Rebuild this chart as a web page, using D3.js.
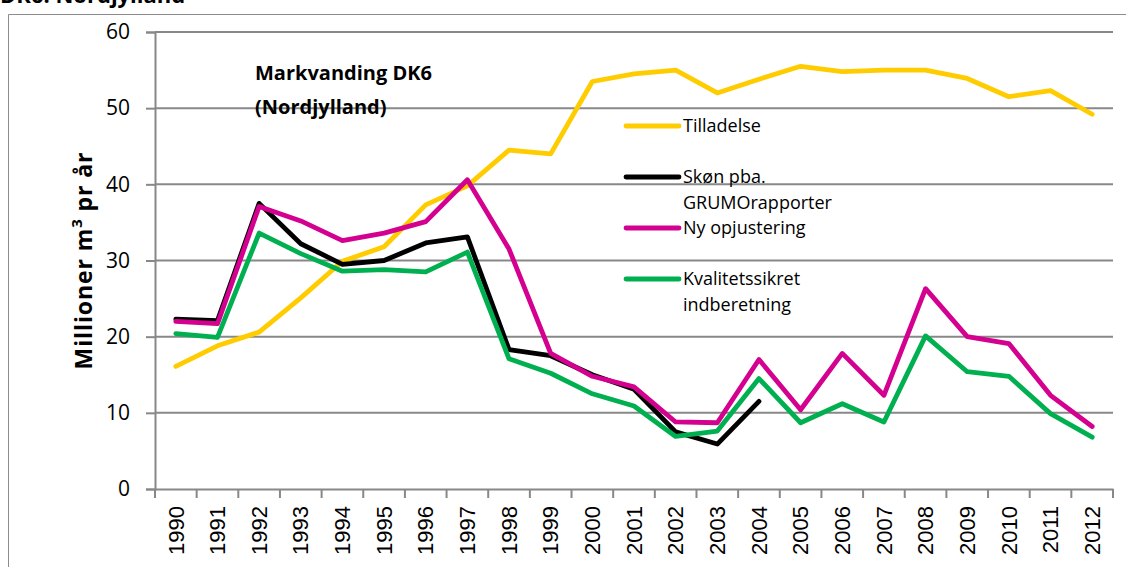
<!DOCTYPE html>
<html>
<head>
<meta charset="utf-8">
<script src="https://cdn.jsdelivr.net/npm/d3@7"></script>
<style>
  html, body { margin: 0; padding: 0; background: #fff; }
  svg { display: block; }
</style>
</head>
<body>
<svg id="chart" width="1126" height="567"></svg>
<script>
// Years on the category axis
const years = ["1990","1991","1992","1993","1994","1995","1996","1997","1998","1999","2000",
               "2001","2002","2003","2004","2005","2006","2007","2008","2009","2010","2011","2012"];

// Mio. m³ per year
const tilladelse = [16.1, 18.8, 20.6, 25.1, 29.9, 31.8, 37.3, 39.8, 44.5, 44.0, 53.5,
                    54.5, 55.0, 52.0, 53.8, 55.5, 54.8, 55.0, 55.0, 53.9, 51.5, 52.3, 49.2];
const skoen = [22.3, 22.1, 37.5, 32.2, 29.5, 30.0, 32.3, 33.1, 18.3, 17.5, 15.0,
               13.1, 7.5, 5.9, 11.5];
const nyOpjustering = [22.0, 21.7, 37.1, 35.2, 32.6, 33.6, 35.1, 40.6, 31.5, 17.8, 14.8,
                       13.4, 8.8, 8.7, 17.0, 10.4, 17.8, 12.3, 26.3, 20.0, 19.1, 12.3, 8.2];
const kvalitet = [20.4, 19.9, 33.6, 30.9, 28.6, 28.8, 28.5, 31.1, 17.1, 15.2, 12.5,
                  10.9, 6.9, 7.6, 14.5, 8.7, 11.2, 8.8, 20.1, 15.4, 14.8, 9.9, 6.8];

const yTicks = [0, 10, 20, 30, 40, 50, 60];

const series = [
  { name: ["Tilladelse"], values: tilladelse, color: "#FFCC00" },
  { name: ["Skøn pba.", "GRUMOrapporter"], values: skoen, color: "#000000" },
  { name: ["Ny opjustering"], values: nyOpjustering, color: "#D4008F" },
  { name: ["Kvalitetssikret", "indberetning"], values: kvalitet, color: "#00B050" }
];

const svg = d3.select("#chart");
const plot = { left: 155, right: 1113, top: 32, bottom: 489 };
const uiFont = "'Open Sans', Lato, sans-serif";
const gridColor = "#888888";

// Outer chart frame (left and top edges visible)
svg.append("path")
  .attr("d", "M8.5,567 V14.5 H1126")
  .attr("fill", "none").attr("stroke", "#8c8c8c").attr("stroke-width", 1);

// Heading, clipped by the top of the page
svg.append("text")
  .attr("x", 0).attr("y", 3)
  .attr("font-family", uiFont).attr("font-weight", "bold").attr("font-size", 22)
  .text("DK6: Nordjylland");

const x = d3.scaleBand().domain(years).range([plot.left, plot.right]);
const y = d3.scaleLinear().domain([0, 60]).range([plot.bottom, plot.top]);

// Horizontal gridlines
svg.append("g")
  .selectAll("line")
  .data(yTicks.filter(d => d > 0))
  .join("line")
  .attr("x1", plot.left).attr("x2", plot.right)
  .attr("y1", d => y(d)).attr("y2", d => y(d))
  .attr("stroke", gridColor).attr("stroke-width", 2);

// Y axis
const yAxis = svg.append("g")
  .attr("transform", `translate(${plot.left},0)`)
  .call(d3.axisLeft(y).tickValues(yTicks).tickSize(9).tickPadding(16));
yAxis.select(".domain").attr("stroke", gridColor).attr("stroke-width", 2);
yAxis.selectAll(".tick line").attr("stroke", gridColor).attr("stroke-width", 2);
yAxis.selectAll(".tick text")
  .attr("font-family", uiFont).attr("font-size", 21).attr("fill", "#000");

// X axis with ticks on category boundaries
const xAxis = svg.append("g")
  .attr("transform", `translate(0,${plot.bottom})`)
  .call(d3.axisBottom(x).tickSize(0).tickSizeOuter(0));
xAxis.select(".domain").attr("stroke", gridColor).attr("stroke-width", 2);
xAxis.selectAll(".tick text")
  .attr("font-family", "'Liberation Sans', Arial, sans-serif")
  .attr("font-size", 22).attr("fill", "#000")
  .attr("text-anchor", "end")
  .attr("transform", "rotate(-90)")
  .attr("x", -17).attr("y", 0).attr("dy", "0.35em");
const bounds = years.map(d => x(d)).concat([x(years[years.length - 1]) + x.bandwidth()]);
xAxis.append("g").selectAll("line")
  .data(bounds).join("line")
  .attr("x1", d => d).attr("x2", d => d)
  .attr("y1", 0).attr("y2", 9)
  .attr("stroke", gridColor).attr("stroke-width", 2);

// Y axis title
svg.append("text")
  .attr("transform", `translate(92,${(plot.top + plot.bottom) / 2}) rotate(-90)`)
  .attr("text-anchor", "middle")
  .attr("font-family", uiFont).attr("font-weight", "bold").attr("font-size", 23)
  .attr("letter-spacing", 0.9)
  .call(t => {
    t.append("tspan").text("Millioner m");
    t.append("tspan").attr("baseline-shift", "super").attr("font-size", 15).text("3");
    t.append("tspan").text(" pr år");
  });

// Series lines
const line = d3.line()
  .x((d, i) => x(years[i]) + x.bandwidth() / 2)
  .y(d => y(d));

svg.append("g")
  .selectAll("path")
  .data(series)
  .join("path")
  .attr("d", d => line(d.values))
  .attr("fill", "none")
  .attr("stroke", d => d.color)
  .attr("stroke-width", 4.8)
  .attr("stroke-linejoin", "round")
  .attr("stroke-linecap", "round");

// Inner title
const inner = svg.append("text")
  .attr("font-family", uiFont).attr("font-weight", "bold").attr("font-size", 20);
inner.append("tspan").attr("x", 255).attr("y", 80).text("Markvanding DK6");
inner.append("tspan").attr("x", 255).attr("y", 114).text("(Nordjylland)");

// Legend
const legendY = [126, 177, 228, 279];
const legend = svg.append("g");
series.forEach((s, i) => {
  const g = legend.append("g").attr("transform", `translate(0,${legendY[i]})`);
  g.append("line")
    .attr("x1", 626).attr("x2", 679).attr("y1", 0).attr("y2", 0)
    .attr("stroke", s.color).attr("stroke-width", 4.8).attr("stroke-linecap", "round");
  const t = g.append("text")
    .attr("font-family", uiFont).attr("font-size", 18).attr("fill", "#000");
  s.name.forEach((n, k) => {
    t.append("tspan").attr("x", 683).attr("y", 6 + k * 26).text(n);
  });
});
</script>
</body>
</html>
